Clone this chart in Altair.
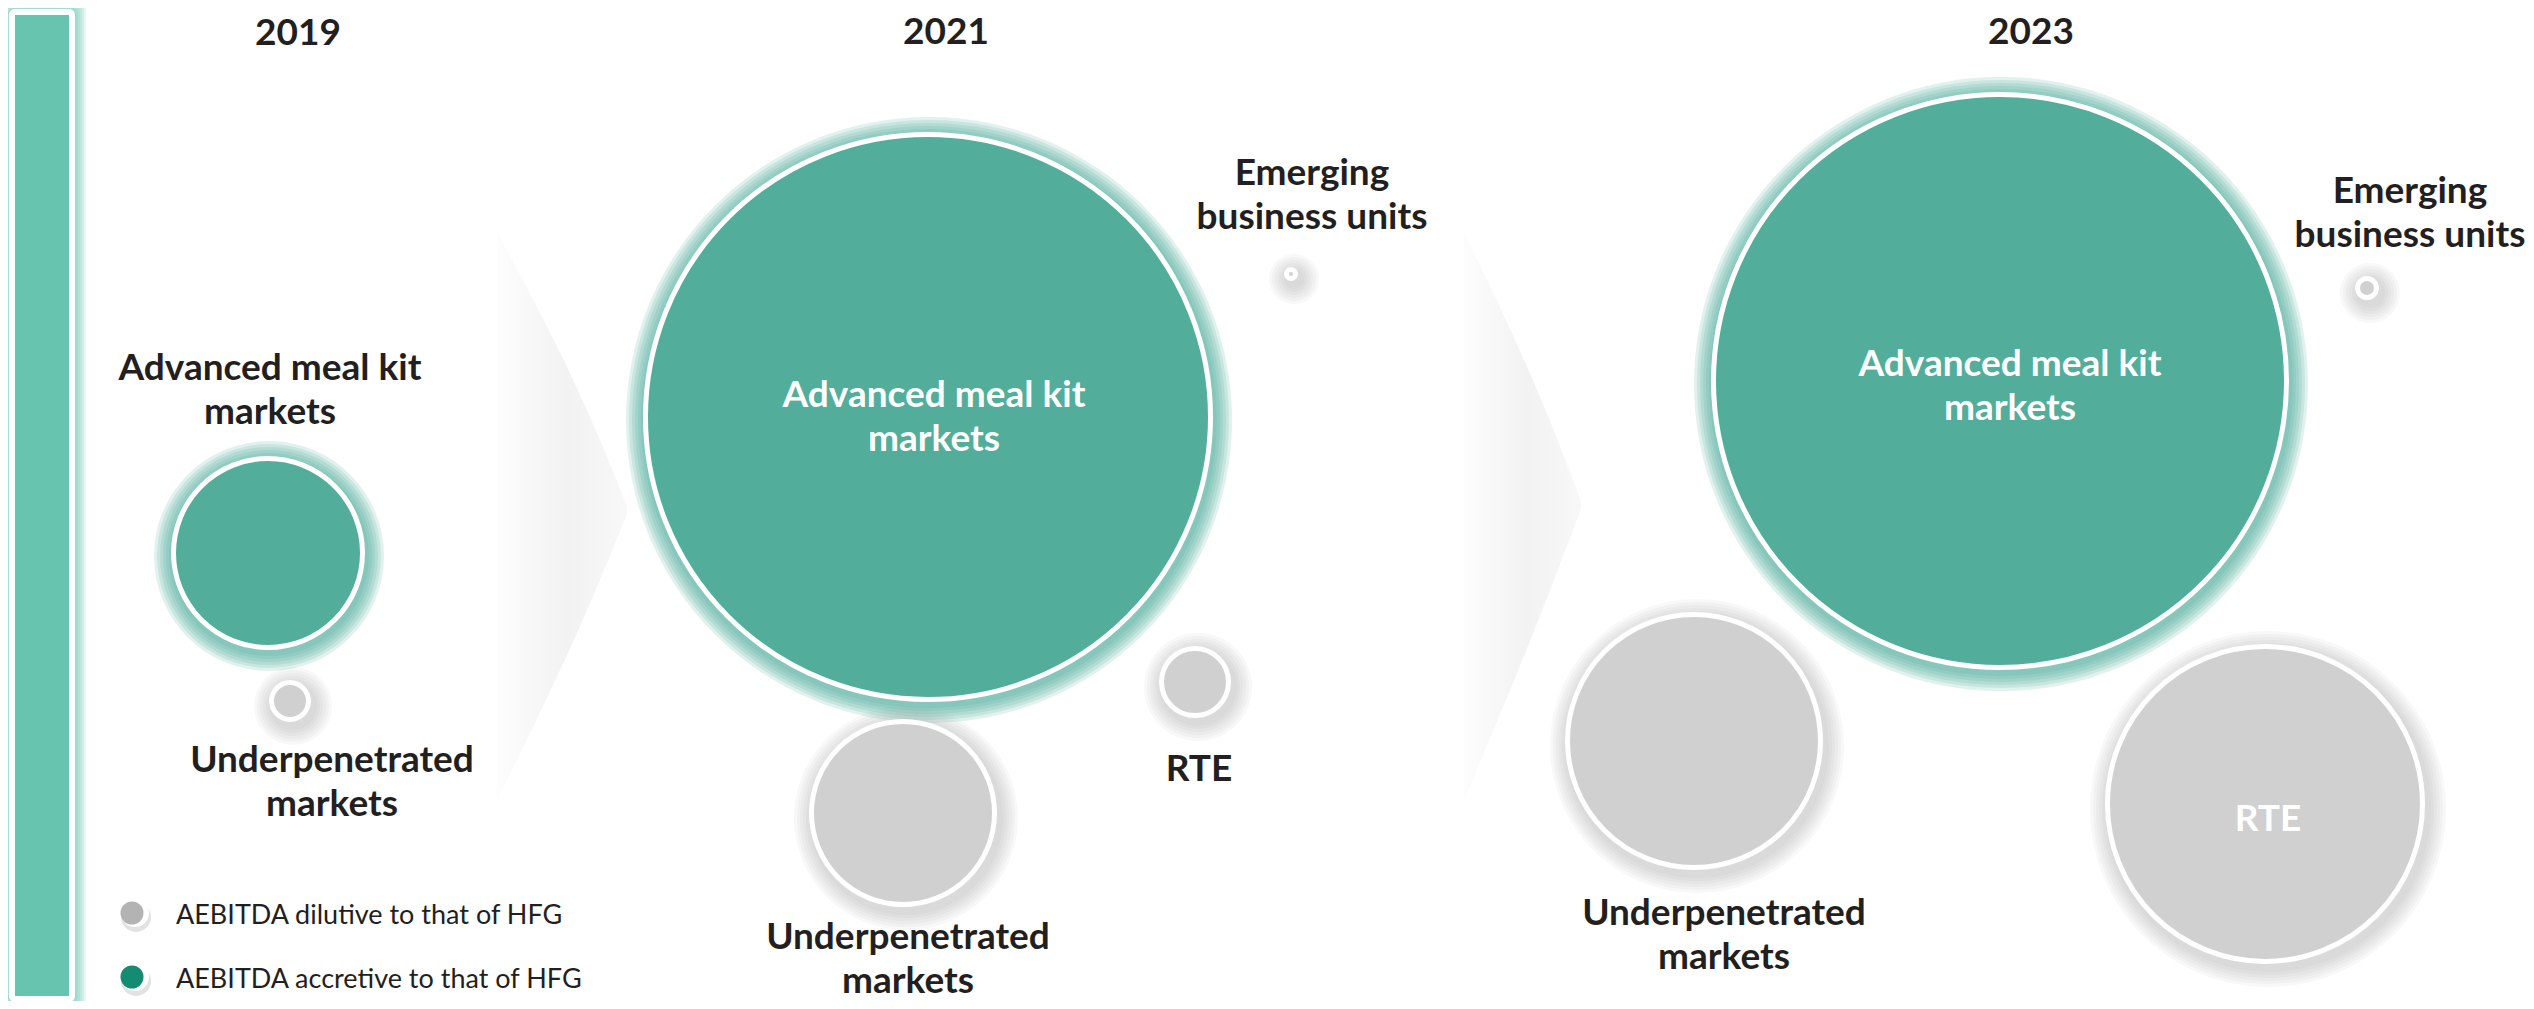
import altair as alt
import pandas as pd

W, H = 2518, 993

# ---- bubbles -------------------------------------------------------------
bubble_year = ["2019", "2019", "2021", "2021", "2021", "2021", "2023", "2023", "2023", "2023"]
bubble_segment = ["Advanced meal kit markets", "Underpenetrated markets",
                  "Advanced meal kit markets", "Emerging business units", "RTE", "Underpenetrated markets",
                  "Advanced meal kit markets", "Emerging business units", "Underpenetrated markets", "RTE"]
bubble_x = [268, 290, 928, 1291, 1195, 903, 2000, 2367, 1694, 2265]
bubble_y = [553, 701, 417, 274, 682, 813, 381, 288, 741, 804]
bubble_r = [97, 21, 285, 7, 36, 94, 289, 12, 129, 160]
bubble_type = ["accretive", "dilutive", "accretive", "dilutive", "dilutive", "dilutive",
               "accretive", "dilutive", "dilutive", "dilutive"]

# ---- labels --------------------------------------------------------------
label_text = ["Advanced meal kit\nmarkets", "Underpenetrated\nmarkets",
              "Advanced meal kit\nmarkets", "Emerging\nbusiness units", "RTE", "Underpenetrated\nmarkets",
              "Advanced meal kit\nmarkets", "Emerging\nbusiness units", "RTE", "Underpenetrated\nmarkets"]
label_x = [270, 332, 934, 1312, 1199, 908, 2010, 2410, 2268, 1724]
label_y = [380, 772, 407, 185, 781, 949, 376, 203, 831, 925]
label_inside = [False, False, True, False, False, False, True, False, True, False]

# ---- year titles ---------------------------------------------------------
titles = ["2019", "2021", "2023"]
title_x = [298, 946, 2031]
title_y = [45, 44, 44]

# ---- legend --------------------------------------------------------------
legend_labels = ["AEBITDA dilutive to that of HFG", "AEBITDA accretive to that of HFG"]
legend_type = ["dilutive_legend", "accretive_legend"]
legend_x = [132, 132]
legend_y = [913, 977]

# ---- decorative arrows between years ------------------------------------
arrow_id = ["a1", "a1", "a1", "a2", "a2", "a2"]
arrow_x = [497, 600, 627, 1464, 1556, 1581]
arrow_top = [232, 440, 506, 232, 436, 501]
arrow_bottom = [800, 580, 514, 800, 575, 509]

# ---- left bar ------------------------------------------------------------
bar_x0, bar_x1, bar_y0, bar_y1 = [12], [72], [12], [999]

palette = {
    "accretive": "#52AE9A",
    "dilutive": "#D0D0D0",
    "accretive_legend": "#138C72",
    "dilutive_legend": "#B3B3B3",
}
TEAL_BAR = "#66C4AF"
TEXT = "#231F20"

xs = alt.Scale(domain=[8, 8 + W], nice=False, zero=False)
ys = alt.Scale(domain=[8, 8 + H], nice=False, zero=False, reverse=True)


def sym_size(radius):
    # Vega symbol size is the area of the bounding square: (2r)^2
    return (2.0 * radius) ** 2


bubbles = pd.DataFrame({
    "year": bubble_year, "segment": bubble_segment, "x": bubble_x, "y": bubble_y,
    "r": bubble_r, "type": bubble_type,
})
bubbles["fill"] = bubbles["type"].map(palette)

# glow rings (soft halo built from concentric translucent circles)
glow_steps = [3, 6, 9, 12, 15, 18]
glow_rows = []
for _, b in bubbles.iterrows():
    teal = b["type"] == "accretive"
    for k in glow_steps:
        glow_rows.append({
            "x": b["x"] + (1 if teal else 3),
            "y": b["y"] + (3 if teal else 5),
            "area": sym_size(b["r"] + k),
            "fill": "#4FAE98" if teal else "#9C9C9C",
            "teal": teal,
        })
glow = pd.DataFrame(glow_rows)

SW = 5
bubbles["area"] = [sym_size(max(r - SW / 2, 1.5)) for r in bubbles["r"]]

X = lambda f: alt.X(f, type="quantitative", scale=xs, axis=None)
Y = lambda f: alt.Y(f, type="quantitative", scale=ys, axis=None)

glow_teal = alt.Chart(glow[glow["teal"]]).mark_circle(opacity=0.17, strokeWidth=0).encode(
    x=X("x"), y=Y("y"),
    size=alt.Size("area:Q", scale=None),
    color=alt.Color("fill:N", scale=None),
)
glow_grey = alt.Chart(glow[~glow["teal"]]).mark_circle(opacity=0.07, strokeWidth=0).encode(
    x=X("x"), y=Y("y"),
    size=alt.Size("area:Q", scale=None),
    color=alt.Color("fill:N", scale=None),
)
circles = alt.Chart(bubbles).mark_circle(opacity=1, stroke="white", strokeWidth=SW).encode(
    x=X("x"), y=Y("y"),
    size=alt.Size("area:Q", scale=None),
    color=alt.Color("fill:N", scale=None),
)

labels = pd.DataFrame({"text": label_text, "x": label_x, "y": label_y, "inside": label_inside})
labels["col"] = ["#FFFFFF" if v else TEXT for v in labels["inside"]]
label_layer = alt.Chart(labels).mark_text(
    font="Lato", fontWeight="bold", fontSize=37, lineBreak="\n", lineHeight=44,
    align="center", baseline="alphabetic",
).encode(x=X("x"), y=Y("y"), text="text:N", color=alt.Color("col:N", scale=None))

title_df = pd.DataFrame({"text": titles, "x": title_x, "y": title_y})
title_layer = alt.Chart(title_df).mark_text(
    font="Lato", fontWeight="bold", fontSize=37, align="center", baseline="alphabetic", color=TEXT,
).encode(x=X("x"), y=Y("y"), text="text:N")

# legend
leg = pd.DataFrame({"label": legend_labels, "type": legend_type, "x": legend_x, "y": legend_y})
leg["fill"] = leg["type"].map(palette)
leg["tx"] = leg["x"] + 44
leg["ty"] = leg["y"] + 11
leg["sx"] = leg["x"] + 4
leg["sy"] = leg["y"] + 4
leg["wx"] = leg["x"] + 3
leg_shadow = alt.Chart(leg).mark_circle(opacity=0.25, color="#8A8A8A", size=sym_size(15)).encode(
    x=X("sx"), y=Y("sy"))
leg_white = alt.Chart(leg).mark_circle(opacity=1, color="white", size=sym_size(14)).encode(
    x=X("wx"), y=Y("y"))
leg_dot = alt.Chart(leg).mark_circle(opacity=1, size=sym_size(11.5)).encode(
    x=X("x"), y=Y("y"), color=alt.Color("fill:N", scale=None))
leg_text = alt.Chart(leg).mark_text(
    font="Lato", fontSize=27, align="left", baseline="alphabetic", color=TEXT,
).encode(x=X("tx"), y=Y("ty"), text="label:N")

# arrows
arrows = pd.DataFrame({"id": arrow_id, "x": arrow_x, "top": arrow_top, "bottom": arrow_bottom})
grad = alt.LinearGradient(
    gradient="linear", x1=0, x2=1, y1=0, y2=0,
    stops=[alt.GradientStop(color="#FDFDFD", offset=0),
           alt.GradientStop(color="#F2F2F2", offset=0.55),
           alt.GradientStop(color="#F8F8F8", offset=1)],
)
arrow_layer = alt.Chart(arrows).mark_area(color=grad, opacity=1, interpolate="monotone").encode(
    x=X("x"), y=Y("top"), y2="bottom:Q", detail="id:N")

# left bar
bar = pd.DataFrame({"x0": bar_x0, "x1": bar_x1, "y0": bar_y0, "y1": bar_y1})
bar_glow_rows = []
for k in [2, 4, 6, 8, 10, 12]:
    bar_glow_rows.append({"x0": bar_x0[0] - k, "x1": bar_x1[0] + k + 2,
                          "y0": bar_y0[0] - k, "y1": bar_y1[0] + k})
bar_glow = pd.DataFrame(bar_glow_rows)
bar_glow_layer = alt.Chart(bar_glow).mark_rect(color=TEAL_BAR, opacity=0.16, cornerRadius=6).encode(
    x=X("x0"), x2="x1:Q", y=Y("y0"), y2="y1:Q")
bar_layer = alt.Chart(bar).mark_rect(color=TEAL_BAR, stroke="white", strokeWidth=6, cornerRadius=3).encode(
    x=X("x0"), x2="x1:Q", y=Y("y0"), y2="y1:Q")

chart = alt.layer(
    arrow_layer, bar_glow_layer, bar_layer,
    glow_teal, glow_grey, circles,
    label_layer, title_layer,
    leg_shadow, leg_white, leg_dot, leg_text,
).properties(
    width=W, height=H, padding=0, autosize=alt.AutoSizeParams(type="none"),
    background="white",
).configure_view(stroke=None)

chart.save("out.html", embed_options={"renderer": "svg", "actions": False})
